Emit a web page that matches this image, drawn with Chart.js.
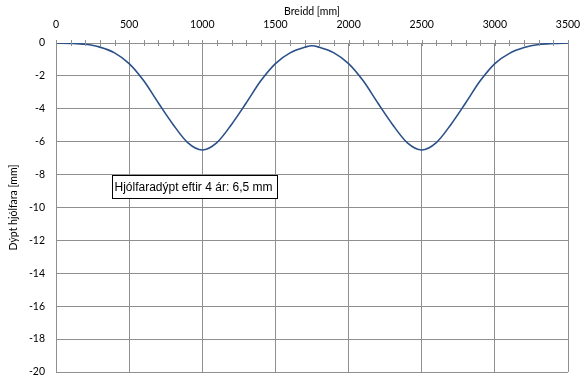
<!DOCTYPE html>
<html>
<head>
<meta charset="utf-8">
<script src="https://cdn.jsdelivr.net/npm/chart.js@4/dist/chart.umd.min.js"></script>
<style>
  html, body { margin: 0; padding: 0; background: #fff; }
  #wrap { width: 588px; height: 380px; }
</style>
</head>
<body>
<div id="wrap"><canvas id="c" width="588" height="380"></canvas></div>
<script>
// Cross-section of rut depth across the road width
const widthMm = [0, 100, 200, 300, 400, 500, 600, 700, 800, 900, 1000, 1100, 1200, 1300, 1400, 1500, 1600, 1700, 1750,
                 1800, 1900, 2000, 2100, 2200, 2300, 2400, 2500, 2600, 2700, 2800, 2900, 3000, 3100, 3200, 3300, 3400, 3500];
const rutDepthMm = [0, -0.02, -0.08, -0.25, -0.6, -1.25, -2.3, -3.65, -4.95, -6.05, -6.5, -6.05, -4.95, -3.65, -2.3, -1.25, -0.6, -0.26, -0.17,
                    -0.26, -0.6, -1.25, -2.3, -3.65, -4.95, -6.05, -6.5, -6.05, -4.95, -3.65, -2.3, -1.25, -0.63, -0.28, -0.09, -0.03, 0];
const xTicks = [0, 500, 1000, 1500, 2000, 2500, 3000, 3500];
const yTicks = [0, -2, -4, -6, -8, -10, -12, -14, -16, -18, -20];
const noteText = 'Hjólfaradýpt eftir 4 ár: 6,5 mm';

const GRID = '#8f8f8f';
const TICK_FONT = { family: 'Lato', size: 10.5 };

// Small tick marks every 100 mm along the top axis
const minorTicks = {
  id: 'minorTicks',
  afterDraw(chart) {
    const { ctx, chartArea, scales: { x } } = chart;
    ctx.save();
    ctx.strokeStyle = GRID;
    ctx.lineWidth = 1;
    for (let v = x.min; v <= x.max; v += 100) {
      const px = Math.round(x.getPixelForValue(v)) + 0.5;
      ctx.beginPath();
      ctx.moveTo(px, chartArea.top - 3);
      ctx.lineTo(px, chartArea.top + 3);
      ctx.stroke();
    }
    ctx.restore();
  }
};

// Boxed note with the rut depth after four years
const depthNote = {
  id: 'depthNote',
  afterDraw(chart) {
    const { ctx, scales: { x, y } } = chart;
    const left = Math.round(x.getPixelForValue(381));
    const top = Math.round(y.getPixelForValue(-8.05));
    ctx.save();
    ctx.font = '12px "Liberation Sans", Arial, sans-serif';
    const w = Math.round(ctx.measureText(noteText).width) + 7;
    const h = 23;
    ctx.fillStyle = '#fff';
    ctx.fillRect(left, top, w, h);
    ctx.strokeStyle = '#000';
    ctx.lineWidth = 1;
    ctx.strokeRect(left + 0.5, top + 0.5, w, h);
    ctx.fillStyle = '#000';
    ctx.textBaseline = 'middle';
    ctx.fillText(noteText, left + 2.5, top + h / 2 + 1);
    ctx.restore();
  }
};

new Chart(document.getElementById('c'), {
  type: 'scatter',
  data: {
    datasets: [{
      data: widthMm.map((w, i) => ({ x: w, y: rutDepthMm[i] })),
      showLine: true,
      borderColor: '#2a5089',
      borderWidth: 1.6,
      pointRadius: 0,
      cubicInterpolationMode: 'monotone',
      fill: false
    }]
  },
  options: {
    responsive: false,
    animation: false,
    layout: { padding: { left: 0, top: 0, right: 20, bottom: 8 } },
    plugins: { legend: { display: false }, tooltip: { enabled: false } },
    scales: {
      x: {
        type: 'linear',
        position: 'top',
        min: 0, max: 3500,
        afterBuildTicks: s => { s.ticks = xTicks.map(v => ({ value: v })); },
        afterFit: s => { s.height = 43; s.paddingLeft = 0; s.paddingRight = 0; },
        ticks: { font: TICK_FONT, color: '#000', padding: 12, maxRotation: 0, callback: v => String(v) },
        grid: { color: GRID, lineWidth: 1, drawTicks: false },
        border: { color: GRID },
        title: { display: true, text: 'Breidd [mm]', font: TICK_FONT, color: '#000', padding: { top: 5, bottom: 0 } }
      },
      y: {
        min: -20, max: 0,
        afterBuildTicks: s => { s.ticks = yTicks.map(v => ({ value: v })); },
        afterFit: s => { s.width = 56; s.paddingTop = 0; s.paddingBottom = 0; },
        ticks: { font: TICK_FONT, color: '#000', padding: 11, callback: v => String(v) },
        grid: { color: GRID, lineWidth: 1, drawTicks: false },
        border: { color: GRID },
        title: { display: true, text: 'Dýpt hjólfara [mm]', font: TICK_FONT, color: '#000', padding: { top: 7, bottom: 0 } }
      }
    }
  },
  plugins: [minorTicks, depthNote]
});
</script>
</body>
</html>
